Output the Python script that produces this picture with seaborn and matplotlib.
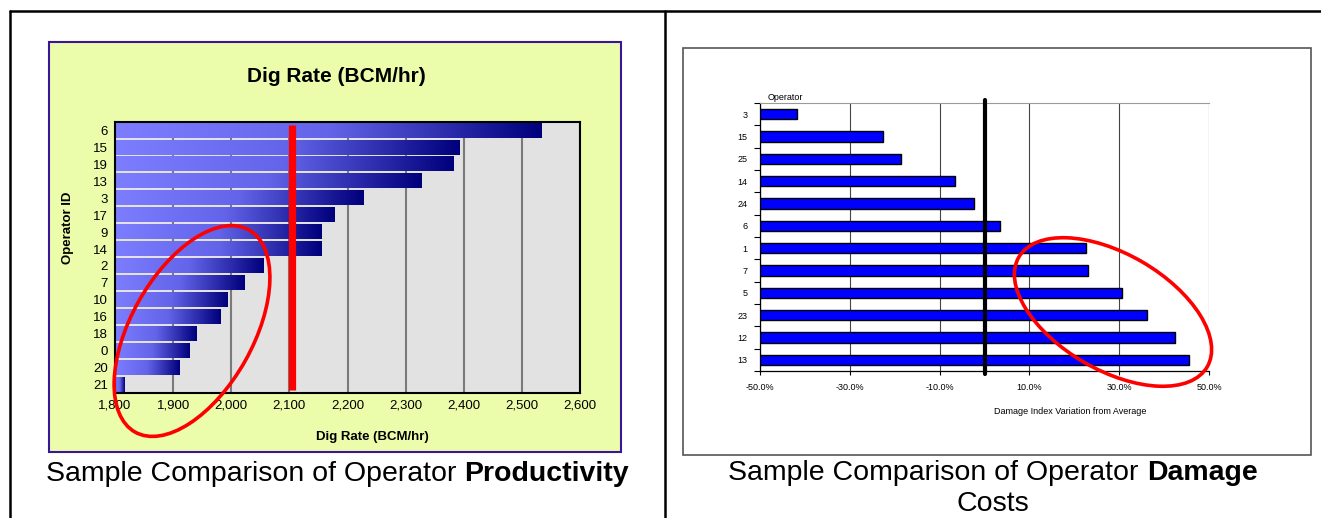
import numpy as np
import pandas as pd
import matplotlib
matplotlib.use("Agg")
import matplotlib.pyplot as plt
import seaborn as sns
from matplotlib.patches import Rectangle, Ellipse
from matplotlib.lines import Line2D
from matplotlib.colors import LinearSegmentedColormap

# ---------------- data ----------------
prod_operators = ["6", "15", "19", "13", "3", "17", "9", "14", "2", "7", "10", "16", "18", "0", "20", "21"]
prod_dig_rate = [2534, 2393, 2383, 2327, 2227, 2177, 2156, 2155, 2055, 2023, 1994, 1981, 1940, 1929, 1911, 1817]
prod_average = 2104
prod_ticks = [1800, 1900, 2000, 2100, 2200, 2300, 2400, 2500, 2600]

dmg_operators = ["3", "15", "25", "14", "24", "6", "1", "7", "5", "23", "12", "13"]
dmg_variation = [-41.7, -22.6, -18.7, -6.6, -2.3, 3.5, 22.7, 23.0, 30.7, 36.1, 42.4, 45.6]
dmg_average = 0.0
dmg_ticks = [-50, -30, -10, 10, 30, 50]

sns.set_theme(style="white")
plt.rcParams["font.family"] = ["Liberation Sans", "DejaVu Sans"]
plt.rcParams["text.color"] = "black"
plt.rcParams["axes.labelcolor"] = "black"
plt.rcParams["xtick.color"] = "black"
plt.rcParams["ytick.color"] = "black"
NARROW = ["Liberation Sans Narrow", "Liberation Sans", "DejaVu Sans"]

W, H = 1321, 518
fig = plt.figure(figsize=(W / 100, H / 100), dpi=100)
fig.patch.set_facecolor("white")


def fx(px):
    return px / W


def fy(py):
    return 1 - py / H


# ---------------- table frame ----------------
for xs, ys in [([10, 1321], [11, 11]), ([10, 10], [11, 518]), ([665, 665], [11, 518])]:
    fig.add_artist(Line2D([fx(v) for v in xs], [fy(v) for v in ys], color="black", lw=1.8,
                          transform=fig.transFigure, zorder=-2))

# chart backgrounds
fig.add_artist(Rectangle((fx(49), fy(452)), (621 - 49) / W, (452 - 42) / H, transform=fig.transFigure,
                         facecolor="#ebfdab", edgecolor="#3a1596", lw=1.5, zorder=-1))
fig.add_artist(Rectangle((fx(683), fy(455)), (1311 - 683) / W, (455 - 48) / H, transform=fig.transFigure,
                         facecolor="white", edgecolor="#555555", lw=1.2, zorder=-1))

# ---------------- left chart ----------------
ax1 = fig.add_axes([fx(115), fy(393), (580 - 115) / W, (393 - 122) / H])
df1 = pd.DataFrame({"op": prod_operators, "rate": prod_dig_rate})
sns.barplot(data=df1, x="rate", y="op", order=prod_operators, orient="h", ax=ax1,
            color="#000080", saturation=1, width=0.84)
ax1.set_facecolor("#e2e2e2")
ax1.set_xlim(prod_ticks[0], prod_ticks[-1])
ylim1 = ax1.get_ylim()
cmap = LinearSegmentedColormap.from_list("dig", ["#7d7dff", "#6464ea", "#00007c"])
grad = np.linspace(0, 1, 256).reshape(1, -1)
for p in ax1.patches:
    x0 = max(p.get_x(), prod_ticks[0])
    x1 = p.get_x() + p.get_width()
    y0 = p.get_y()
    y1 = y0 + p.get_height()
    ax1.imshow(grad, cmap=cmap, extent=[x0, x1, y1, y0], aspect="auto", zorder=2, interpolation="bilinear")
    p.set_facecolor("none")
    p.set_edgecolor("none")
ax1.set_xlim(prod_ticks[0], prod_ticks[-1])
ax1.set_ylim(ylim1)
ax1.vlines(prod_average, -0.35, len(prod_operators) - 1 + 0.35, color="#ff0000", lw=5.2, zorder=4)
ax1.set_xticks(prod_ticks)
ax1.set_xticklabels([f"{t:,}" for t in prod_ticks], family=NARROW, fontsize=9.5)
for lab in ax1.get_yticklabels():
    lab.set_family(NARROW)
    lab.set_fontsize(9.5)
ax1.tick_params(axis="both", length=0, pad=5, colors="black")
ax1.grid(axis="x", color="#7a7a7a", lw=1.5)
ax1.grid(axis="y", visible=False)
ax1.set_axisbelow(True)
for s in ax1.spines.values():
    s.set_color("black")
    s.set_linewidth(1.5)
ax1.set_xlabel("")
ax1.set_ylabel("")

fig.text(fx(336), fy(76), "Dig Rate (BCM/hr)", ha="center", va="center", fontsize=15,
         fontweight="bold", family=NARROW)
fig.text(fx(372), fy(437), "Dig Rate (BCM/hr)", ha="center", va="center", fontsize=9.5,
         fontweight="bold", family=NARROW)
fig.text(fx(68), fy(228), "Operator ID", ha="center", va="center", rotation=90, fontsize=9.5,
         fontweight="bold", family=["Liberation Sans", "DejaVu Sans"])

# ---------------- right chart ----------------
ax2 = fig.add_axes([fx(760), fy(371), (1209 - 760) / W, (371 - 103) / H])
df2 = pd.DataFrame({"op": dmg_operators, "var": dmg_variation})
sns.barplot(data=df2, x="var", y="op", order=dmg_operators, orient="h", ax=ax2,
            color="#0000ff", saturation=1, width=0.45, edgecolor="black", linewidth=1.0)
xmin2, xmax2 = dmg_ticks[0], dmg_ticks[-1]
for p, v in zip(ax2.patches, dmg_variation):
    p.set_x(xmin2)
    p.set_width(v - xmin2)
    p.set_zorder(3)
ax2.set_xlim(xmin2, xmax2)
ax2.set_facecolor("white")
ax2.set_xticks(dmg_ticks)
ax2.set_xticklabels([f"{t:.1f}%" for t in dmg_ticks], fontsize=6.5)
ax2.set_yticks(range(len(dmg_operators)))
ax2.set_yticklabels(dmg_operators, fontsize=6.5)
ax2.set_yticks(np.arange(-0.5, len(dmg_operators)), minor=True)
ax2.tick_params(axis="y", which="major", length=0, pad=9)
ax2.tick_params(axis="y", which="minor", length=4, width=0.8, direction="out", left=True, color="black")
ax2.tick_params(axis="x", which="major", length=3, width=0.8, direction="out", bottom=True, pad=6,
                color="black")
ax2.grid(axis="x", color="#444444", lw=0.8)
ax2.grid(axis="y", visible=False)
ax2.set_axisbelow(True)
ax2.axvline(dmg_average, color="black", lw=3, zorder=5, ymin=-0.01, ymax=1.01, clip_on=False)
ax2.spines["left"].set_color("black")
ax2.spines["left"].set_linewidth(0.9)
ax2.spines["bottom"].set_color("black")
ax2.spines["bottom"].set_linewidth(0.9)
ax2.spines["top"].set_color("#9a9a9a")
ax2.spines["top"].set_linewidth(0.8)
ax2.spines["right"].set_visible(False)
ax2.set_xlabel("")
ax2.set_ylabel("")
fig.text(fx(768), fy(97), "Operator", ha="left", va="center", fontsize=6.5)
fig.text(fx(1070), fy(411), "Damage Index Variation from Average", ha="center", va="center", fontsize=6.5)

# ---------------- highlight ellipses ----------------
fig.add_artist(Ellipse((192 / 100, (H - 331) / 100), 2.32, 1.22, angle=60.6, transform=fig.dpi_scale_trans,
                       facecolor="none", edgecolor="#ff0000", lw=2.6, zorder=6))
fig.add_artist(Ellipse((1113 / 100, (H - 312) / 100), 2.18, 1.16, angle=-30.2, transform=fig.dpi_scale_trans,
                       facecolor="none", edgecolor="#ff0000", lw=2.6, zorder=6))

# ---------------- captions ----------------
CAP = 20.5


def caption(parts, cx, cy):
    texts = [fig.text(0, fy(cy), s, fontsize=CAP, fontweight=w, va="center", ha="left") for s, w in parts]
    r = fig.canvas.get_renderer()
    widths = [t.get_window_extent(r).width for t in texts]
    gap = CAP * 100 / 72 * 0.278
    total = sum(widths) + gap * (len(texts) - 1)
    x = cx - total / 2
    for t, w in zip(texts, widths):
        t.set_x(x / W)
        x += w + gap


caption([("Sample Comparison of Operator", "normal"), ("Productivity", "bold")], 337, 474)
caption([("Sample Comparison of Operator", "normal"), ("Damage", "bold")], 993, 473)
caption([("Costs", "normal")], 993, 504)

fig.savefig("out.png", dpi=100)
